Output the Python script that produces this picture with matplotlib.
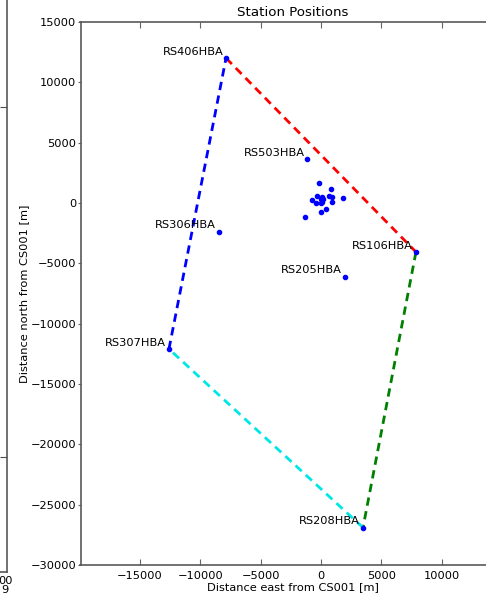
import matplotlib
matplotlib.use("Agg")
import matplotlib.pyplot as plt

# Remote stations (labelled), positions relative to CS001 in metres
remote_names = ["RS406HBA", "RS503HBA", "RS306HBA", "RS106HBA",
                "RS205HBA", "RS307HBA", "RS208HBA"]
remote_east = [-7870, -1130, -8480, 7870, 1990, -12600, 3480]
remote_north = [12010, 3650, -2380, -4060, -6100, -12100, -26900]

# Core stations (unlabelled)
core_east = [-141, 853, -356, 83, 638, 936, 1848, -746, -25, 191,
             -414, 83, 911, 414, 25, -1350, 0]
core_north = [1682, 1135, 605, 522, 580, 522, 439, 249, 307, 356,
              25, 83, 108, -472, -721, -1135, 0]

# Outline of the array: (from, to, colour)
outline = [("RS406HBA", "RS106HBA", "r"),
           ("RS106HBA", "RS208HBA", (0, 0.5, 0)),
           ("RS208HBA", "RS307HBA", (0, 0.9, 0.9)),
           ("RS307HBA", "RS406HBA", "b")]

FS = 8.2
plt.rcParams["font.family"] = "DejaVu Sans"
plt.rcParams["font.size"] = FS

W, H = 486, 597
fig = plt.figure(figsize=(W / 100, H / 100), dpi=100)
fig.patch.set_facecolor("white")

# leftover edge of a neighbouring panel
ax2 = fig.add_axes([-0.6, 25 / H, 0.6 + 7 / W, 1.2])
ax2.set_xlim(0, 1)
ax2.set_ylim(0, 1)
ax2.set_xticks([])
ax2.set_yticks([(572 - 457) / (1.2 * H), (572 - 107) / (1.2 * H)])
ax2.tick_params(axis="y", direction="in", right=True, left=False,
                labelleft=False, length=5, color="0.3")
for s in ax2.spines.values():
    s.set_color("0.35")
    s.set_linewidth(1.2)
fig.text(13 / W, 1 - 581 / H, "00", ha="right", va="center", fontsize=FS)
fig.text(9 / W, 1 - 590 / H, "9", ha="right", va="center", fontsize=FS)

ax = fig.add_axes([80.5 / W, 32 / H, 424 / W, 543 / H])
pxk = 543 / 45.0
ax.set_xlim((80.5 - 321) / pxk * 1000, (504.5 - 321) / pxk * 1000)
ax.set_ylim(-30000, 15000)

pos = dict(zip(remote_names, zip(remote_east, remote_north)))
for a, b, c in outline:
    ax.plot([pos[a][0], pos[b][0]], [pos[a][1], pos[b][1]], "--",
            color=c, lw=2, dashes=(3, 2))

ax.plot(core_east, core_north, ".", color="b", ms=6)
ax.plot(remote_east, remote_north, ".", color="b", ms=6)
for n, x, y in zip(remote_names, remote_east, remote_north):
    ax.annotate(n, (x, y), xytext=(-2, 1), textcoords="offset points",
                ha="right", va="bottom", fontsize=FS)

ax.set_xticks([-15000, -10000, -5000, 0, 5000, 10000])
ax.set_yticks(range(-30000, 15001, 5000))
ax.tick_params(axis="x", direction="in", top=True, length=4, pad=4,
               color="0.4")
ax.tick_params(axis="y", direction="out", length=2, pad=1, color="0.4")
for s in ax.spines.values():
    s.set_color("0.35")
    s.set_linewidth(1.2)

ax.set_title("Station Positions", fontsize=9.6, pad=4)
ax.set_xlabel("Distance east from CS001 [m]", labelpad=1)
ax.set_ylabel("Distance north from CS001 [m]", labelpad=1)

fig.savefig("out.png", dpi=100, facecolor="white")
